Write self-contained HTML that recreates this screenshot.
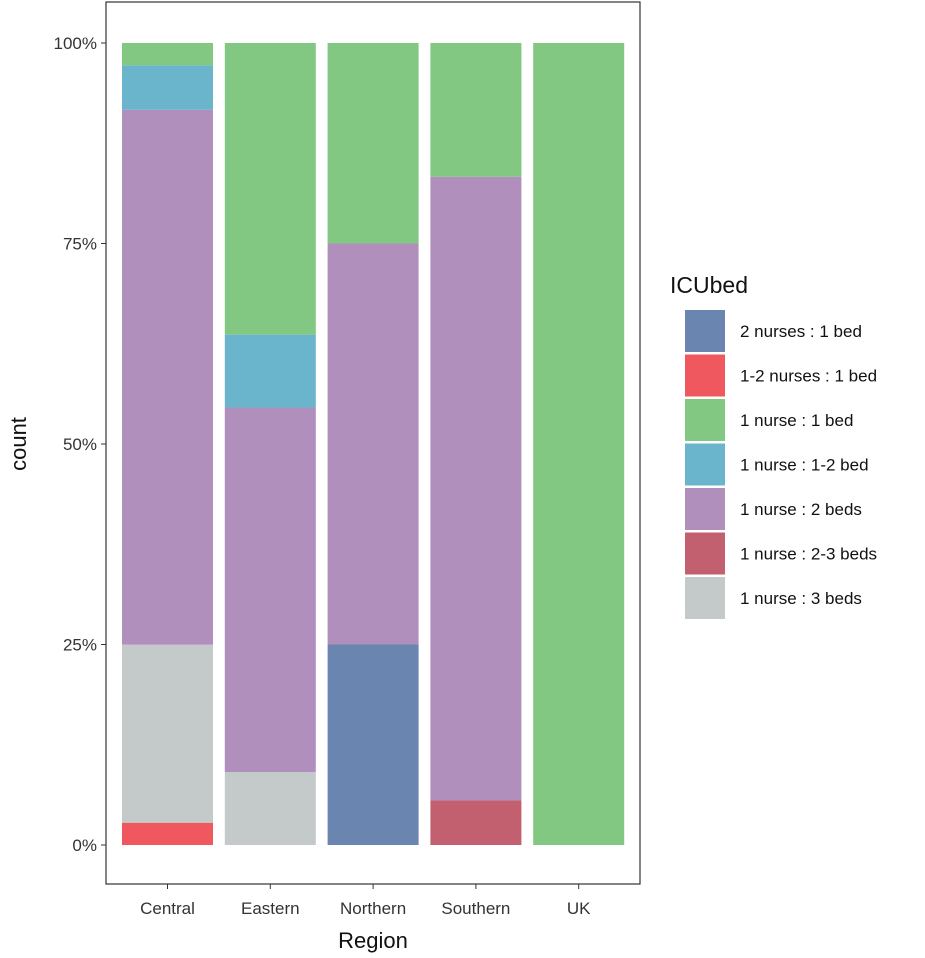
<!DOCTYPE html>
<html><head><meta charset="utf-8"><style>
body{margin:0;background:#fff;}
svg{display:block;font-family:"Liberation Sans",Arial,sans-serif;}
</style></head><body>
<svg id="chart" width="925" height="958">
<rect x="106" y="2" width="534" height="882" fill="#fff" stroke="#333" stroke-width="1.2"/>
<g id="bars"></g><g id="axes"></g><g id="legend"></g>
<text x="373" y="948" font-size="22" text-anchor="middle" fill="#111">Region</text>
<text x="0" y="0" font-size="22" text-anchor="middle" fill="#111" transform="translate(26,444) rotate(-90)">count</text>
<text x="670" y="293" font-size="23" fill="#111">ICUbed</text>
</svg>
<script>
const categories=["Central","Eastern","Northern","Southern","UK"];
const series=["2 nurses : 1 bed","1-2 nurses : 1 bed","1 nurse : 1 bed","1 nurse : 1-2 bed","1 nurse : 2 beds","1 nurse : 2-3 beds","1 nurse : 3 beds"];
const colors=["#6a86b0","#f0585f","#82c882","#6ab4cc","#b08fbc","#c3606f","#c4c9c9"];
// counts per category, per series
const s2n1=[0,0,1,0,0];
const s12n1=[1,0,0,0,0];
const s1n1=[1,4,1,3,1];
const s1n12=[2,1,0,0,0];
const s1n2=[24,5,2,14,0];
const s1n23=[0,0,0,1,0];
const s1n3=[8,1,0,0,0];
const values=[s2n1,s12n1,s1n1,s1n12,s1n2,s1n23,s1n3];
// stacking order bottom to top (series indices)
const stackOrder=[0,1,5,6,4,3,2];
const yTicks=[0,25,50,75,100];
const ns="http://www.w3.org/2000/svg";
const y=p=>845-p*8.02;
const x=i=>122+i*102.8;
const bw=91;
function mk(t,a,p){const e=document.createElementNS(ns,t);for(const k in a)e.setAttribute(k,a[k]);p.appendChild(e);return e;}
const bars=document.getElementById('bars');
categories.forEach((c,i)=>{
  const tot=values.reduce((s,v)=>s+v[i],0);
  let cum=0;
  stackOrder.forEach(k=>{
    const v=values[k][i]; if(!v)return;
    const p0=cum/tot*100,p1=(cum+v)/tot*100; cum+=v;
    const r=mk('rect',{x:x(i),y:y(p1),width:bw,height:y(p0)-y(p1),fill:colors[k]},bars);
    
    
  });
});
const ax=document.getElementById('axes');
yTicks.forEach(t=>{
  const l=mk('line',{x1:101,x2:106,y1:y(t),y2:y(t),stroke:'#333'},ax);
  
  
  const tx=mk('text',{x:97,y:y(t)+6,'font-size':17,'text-anchor':'end',fill:'#333'},ax);
  tx.textContent=t+'%';
  
  
});
categories.forEach((c,i)=>{
  const cx=x(i)+bw/2;
  const l=mk('line',{x1:cx,x2:cx,y1:884,y2:889,stroke:'#333'},ax);
  
  
  const tx=mk('text',{x:cx,y:914,'font-size':17,'text-anchor':'middle',fill:'#333'},ax);
  tx.textContent=c;
  
  
});
const lg=document.getElementById('legend');
series.forEach((s,k)=>{
  const yy=310+k*44.5;
  const r=mk('rect',{x:685,y:yy,width:40,height:42,fill:colors[k]},lg);
  
  
  const t=mk('text',{x:740,y:yy+27,'font-size':17,fill:'#111'},lg);
  t.textContent=s;
  
  
});
</script>
</body></html>
